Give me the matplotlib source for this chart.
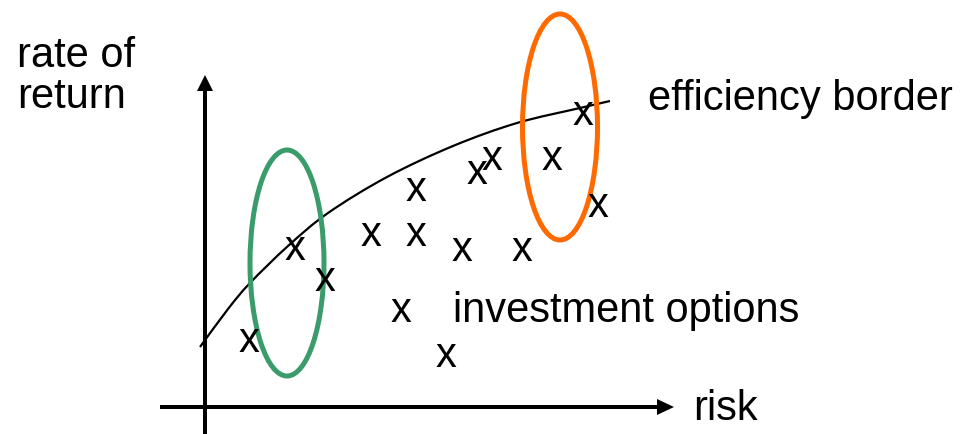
import numpy as np
from matplotlib import pyplot as plt
from matplotlib.patches import Ellipse, FancyArrow, PathPatch
from matplotlib.path import Path

plt.rc('font', family=['Liberation Sans', 'DejaVu Sans'])

# positions of the "x" investment options (pixel space of the sketch)
opt_x = [249, 295, 325, 371, 416, 416, 401, 446, 462, 522, 477, 492, 552, 583, 598]
opt_y = [342, 250, 281, 236, 236, 191, 312, 357, 251, 251, 174, 160, 160, 115, 207]

# efficiency border
border_x = [200, 228, 250, 288, 328, 387, 453, 517, 580, 610]
border_y = [347, 309, 283, 246, 213, 177, 146, 123, 108, 101]

# highlighted groups: (cx, cy, w, h, colour)
groups = [(287, 263, 74, 226, '#3a9b6b'),
          (560, 127, 75, 226, '#ff6a00')]


def smooth_path(xs, ys):
    # catmull-rom through the read points, drawn as cubic bezier segments
    p = np.column_stack([xs, ys]).astype(float)
    p = np.vstack([p[0], p, p[-1]])
    verts = [p[1]]
    codes = [Path.MOVETO]
    for i in range(1, len(p) - 2):
        c1 = p[i] + (p[i + 1] - p[i - 1]) / 6
        c2 = p[i + 1] - (p[i + 2] - p[i]) / 6
        verts += [c1, c2, p[i + 1]]
        codes += [Path.CURVE4] * 3
    return Path(verts, codes)


fig = plt.figure(figsize=(9.65, 4.34), dpi=100)
ax = fig.add_axes([0, 0, 1, 1])
ax.set_xlim(0, 965)
ax.set_ylim(434, 0)
ax.axis('off')

# axes arrows
ax.add_patch(FancyArrow(205, 434, 0, -359, width=4, head_width=16, head_length=16,
                        length_includes_head=True, color='black', lw=0))
ax.add_patch(FancyArrow(160, 407, 514, 0, width=4, head_width=16, head_length=17,
                        length_includes_head=True, color='black', lw=0))

ax.add_patch(PathPatch(smooth_path(border_x, border_y), fill=False,
                       edgecolor='black', lw=1.6))

for cx, cy, w, h, c in groups:
    ax.add_patch(Ellipse((cx, cy), w, h, fill=False, edgecolor=c, lw=3.6))

for x, y in zip(opt_x, opt_y):
    ax.text(x, y + 10, 'x', fontsize=30, ha='center', va='baseline')

ax.text(17, 67, 'rate of', fontsize=30, va='baseline')
ax.text(17, 108, 'return', fontsize=30, va='baseline')
ax.text(648, 110, 'efficiency border', fontsize=30, va='baseline')
ax.text(453, 322, 'investment options', fontsize=30, va='baseline')
ax.text(693, 420, 'risk', fontsize=30, va='baseline')

plt.savefig('out.png', dpi=100)
